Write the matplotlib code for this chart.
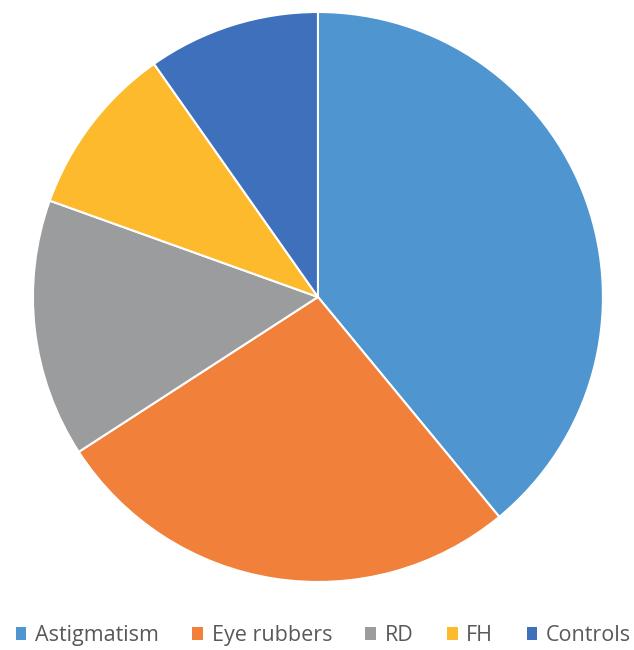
import matplotlib
matplotlib.use("Agg")
import matplotlib.pyplot as plt
from matplotlib.patches import Patch

categories = ["Astigmatism", "Eye rubbers", "RD", "FH", "Controls"]
values = [16, 11, 6, 4, 4]
colors = ["#4F96D1", "#F0803A", "#9A9C9E", "#FDBA2C", "#3F70BC"]

fig = plt.figure(figsize=(6.34, 6.5), dpi=100)
ax = fig.add_axes([0.052, 0.1046, 0.899, 0.877])
ax.pie(values, colors=colors, startangle=90, counterclock=False,
       wedgeprops=dict(edgecolor="white", linewidth=1.5), radius=1.0)
ax.set_xlim(-1, 1)
ax.set_ylim(-1, 1)
ax.set_aspect("equal")
ax.axis("off")

handles = [Patch(facecolor=c, edgecolor="none") for c in colors]
fig.legend(handles, categories, loc="center", bbox_to_anchor=(0.51, 0.022),
           ncol=5, frameon=False, handlelength=0.5, handleheight=0.5,
           handletextpad=0.4, columnspacing=1.55, labelcolor="#595959",
           prop=dict(family="Open Sans", size=15.5))
fig.savefig("out.png", dpi=100)
